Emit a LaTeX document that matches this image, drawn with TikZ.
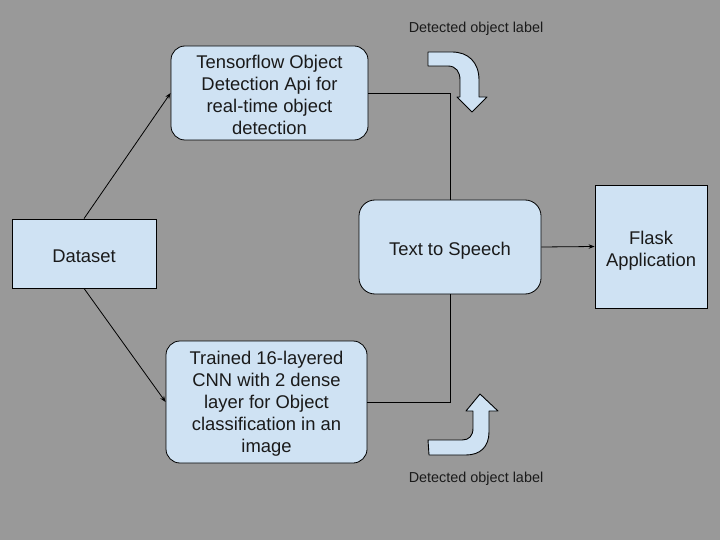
\documentclass[tikz,border=0pt]{standalone}
\usepackage{fontspec}
\setmainfont{Liberation Sans}
\usetikzlibrary{arrows.meta}
\definecolor{bggray}{HTML}{999999}
\definecolor{boxblue}{HTML}{CFE2F3}
\definecolor{inktext}{HTML}{1A1A1A}
\tikzset{
  box/.style={draw=black, line width=0.8pt, fill=boxblue, text=inktext, align=center,
              inner sep=0pt, font=\fontsize{18.4}{22}\selectfont},
  roundbox/.style={box, rounded corners=14pt},
  link/.style={draw=black, line width=0.8pt},
  flow/.style={link, -{Stealth[length=6pt,width=4.5pt]}},
  bentarrow/.style={draw=black, line width=0.9pt, fill=boxblue, line join=round},
  note/.style={text=inktext, font=\fontsize{14.4}{17}\selectfont}
}
\begin{document}
\begin{tikzpicture}[x=1pt,y=-1pt]
\useasboundingbox (0,0) rectangle (720,540);
\fill[bggray] (0,0) rectangle (720,540);

\node[box, minimum width=144pt, minimum height=69pt, text height=17.4pt, text depth=0pt]
  (dataset) at (84,253.5) {Dataset};
\node[roundbox, minimum width=197pt, minimum height=94pt, text height=82.5pt, text depth=0pt]
  (tfapi) at (269.5,93)
  {Tensorflow Object\\Detection Api for\\real-time object\\detection};
\node[roundbox, minimum width=201pt, minimum height=122pt, text height=104.5pt, text depth=3.9pt]
  (cnn) at (266.5,402)
  {Trained 16-layered\\CNN with 2 dense\\layer for Object\\classification in an\\image};
\node[roundbox, rounded corners=16pt, minimum width=182pt, minimum height=94pt,
  text height=21.2pt, text depth=3.9pt] (tts) at (450,247)
  {Text to Speech};
\node[box, minimum width=112pt, minimum height=123pt, text height=43.5pt, text depth=3.9pt]
  (flask) at (651,246.5)
  {Flask\\Application};

\draw[flow] (dataset.north) -- (tfapi.west);
\draw[flow] (dataset.south) -- (cnn.west);
\draw[link] (tfapi.east) -| (tts.north);
\draw[link] (cnn.east) -| (tts.south);
\draw[flow] (tts.east) -- (flask.west);

% bent block arrows
\draw[bentarrow] (428,52) -- (452,52) .. controls (468,52) and (479,62) .. (479,80)
  -- (479,97) -- (487,97) -- (472,112) -- (457,97) -- (460,97) -- (460,80)
  .. controls (460,72) and (456,66) .. (448,66) -- (428,66) -- cycle;
\draw[bentarrow] (428,440) -- (462,440) .. controls (469,440) and (473,436) .. (473,428)
  -- (473,411) -- (466,411) -- (480,394) -- (498,411) -- (489,411) -- (489,432)
  .. controls (489,447) and (480,455) .. (466,455) -- (429,455) -- cycle;

\node[note] (toplabel) at (476,29) {Detected object label};
\node[note] (botlabel) at (476,479) {Detected object label};
\end{tikzpicture}
\end{document}
